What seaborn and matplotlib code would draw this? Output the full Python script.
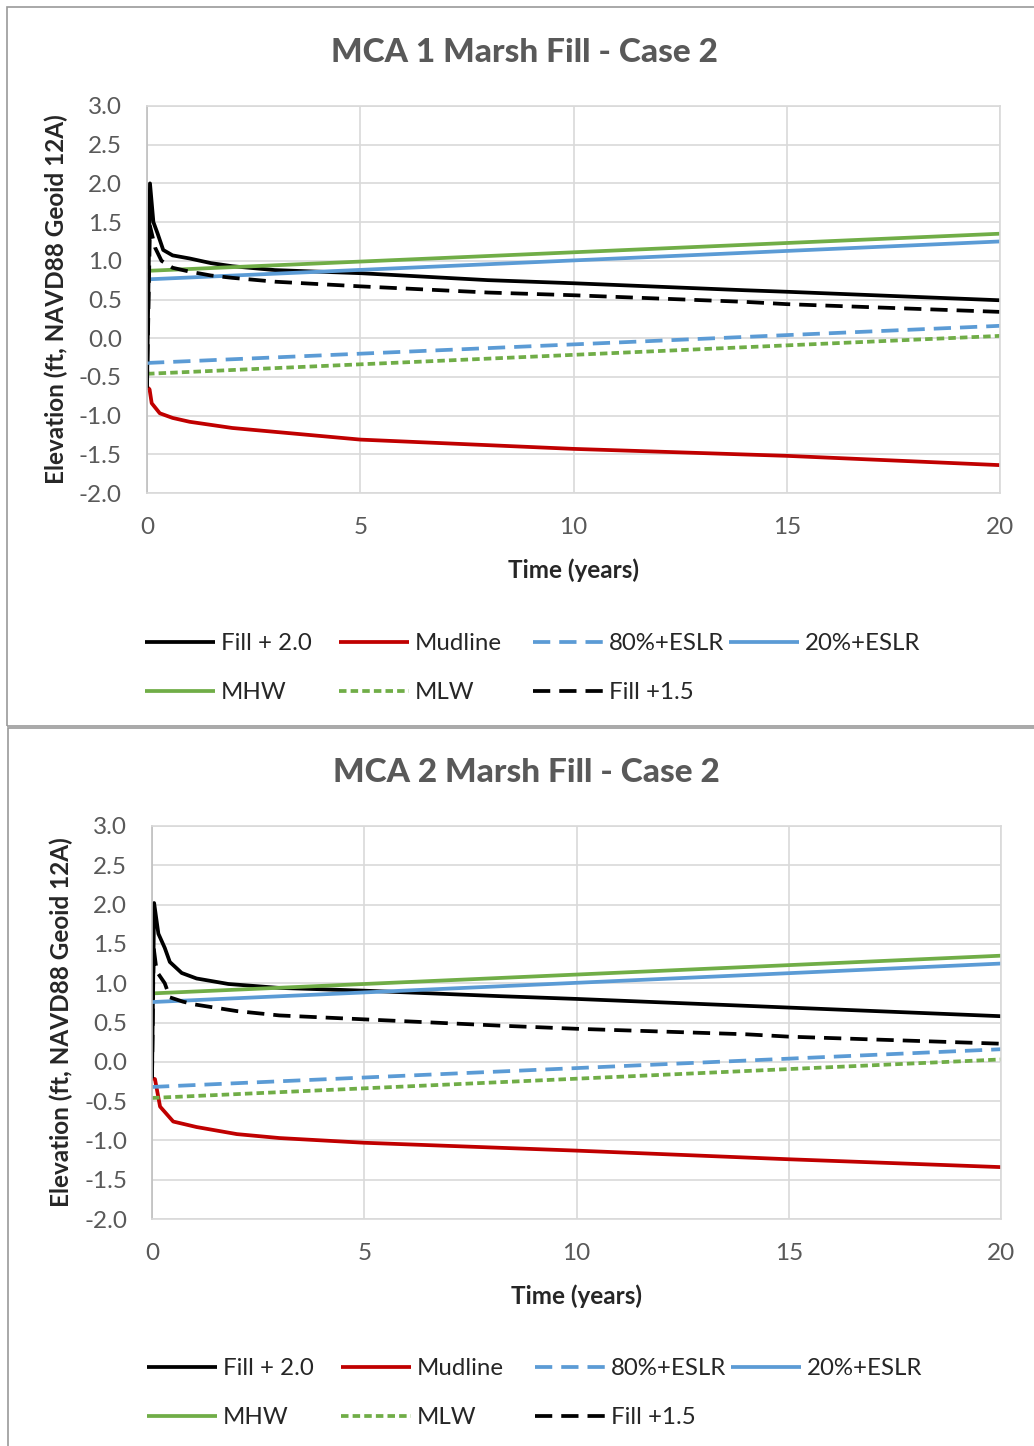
import numpy as np
import pandas as pd
import matplotlib
matplotlib.use("Agg")
import matplotlib.pyplot as plt
from matplotlib.patches import Rectangle
import seaborn as sns

# ---------------- data ----------------
SERIES = ["Fill + 2.0", "Mudline", "80%+ESLR", "20%+ESLR", "MHW", "MLW", "Fill +1.5"]
TITLES = ["MCA 1 Marsh Fill - Case 2", "MCA 2 Marsh Fill - Case 2"]
X_TICKS = [0, 5, 10, 15, 20]
Y_TICKS = [-2.0, -1.5, -1.0, -0.5, 0.0, 0.5, 1.0, 1.5, 2.0, 2.5, 3.0]

# linear tidal / sea-level series (same in both charts)
T_LIN = [0, 20]
MHW = [0.87, 1.35]
ESLR20 = [0.76, 1.25]
ESLR80 = [-0.32, 0.16]
MLW = [-0.46, 0.03]

# MCA 1
T1_FILL20 = [0, 0.07, 0.15, 0.25, 0.38, 0.6, 1.0, 1.5, 2.0, 3.0, 5.0, 8.0, 10.0, 14.0, 15.0, 20.0]
V1_FILL20 = [-0.64, 2.0, 1.5, 1.35, 1.14, 1.07, 1.03, 0.97, 0.93, 0.88, 0.84, 0.75, 0.71, 0.62, 0.60, 0.49]
T1_FILL15 = [0, 0.07, 0.19, 0.34, 0.6, 1.0, 1.5, 2.0, 3.0, 5.0, 8.0, 10.0, 14.0, 15.0, 20.0]
V1_FILL15 = [-0.64, 1.45, 1.17, 1.0, 0.91, 0.86, 0.81, 0.78, 0.73, 0.67, 0.59, 0.555, 0.47, 0.44, 0.34]
T1_MUD = [0, 0.06, 0.11, 0.3, 0.6, 1.0, 2.0, 3.0, 5.0, 10.0, 15.0, 20.0]
V1_MUD = [-0.63, -0.66, -0.84, -0.97, -1.03, -1.08, -1.16, -1.21, -1.31, -1.43, -1.52, -1.64]

# MCA 2
T2_FILL20 = [0, 0.05, 0.15, 0.3, 0.42, 0.7, 1.05, 1.8, 3.0, 5.0, 8.2, 10.0, 14.1, 15.0, 20.0]
V2_FILL20 = [-0.21, 2.02, 1.63, 1.45, 1.27, 1.13, 1.06, 0.99, 0.94, 0.905, 0.835, 0.80, 0.71, 0.69, 0.58]
T2_FILL15 = [0, 0.04, 0.11, 0.3, 0.42, 0.73, 1.0, 2.0, 3.0, 5.0, 8.2, 10.0, 14.0, 15.0, 20.0]
V2_FILL15 = [-0.21, 1.45, 1.15, 1.0, 0.82, 0.765, 0.73, 0.645, 0.59, 0.54, 0.46, 0.42, 0.35, 0.32, 0.23]
T2_MUD = [0, 0.07, 0.19, 0.5, 1.05, 2.0, 3.0, 5.0, 10.0, 15.0, 20.0]
V2_MUD = [-0.21, -0.22, -0.57, -0.76, -0.83, -0.92, -0.97, -1.03, -1.13, -1.24, -1.34]

PALETTE = {"Fill + 2.0": "#000000", "Mudline": "#C00000", "80%+ESLR": "#5B9BD5",
           "20%+ESLR": "#5B9BD5", "MHW": "#70AD47", "MLW": "#70AD47", "Fill +1.5": "#000000"}
DASHES = {"Fill + 2.0": "", "Mudline": "", "80%+ESLR": (4.6, 2.4), "20%+ESLR": "",
          "MHW": "", "MLW": (2.0, 1.1), "Fill +1.5": (4.6, 2.4)}


def build_df(tf20, vf20, tmud, vmud, tf15, vf15):
    parts = [
        ("Fill + 2.0", tf20, vf20),
        ("Mudline", tmud, vmud),
        ("80%+ESLR", T_LIN, ESLR80),
        ("20%+ESLR", T_LIN, ESLR20),
        ("MHW", T_LIN, MHW),
        ("MLW", T_LIN, MLW),
        ("Fill +1.5", tf15, vf15),
    ]
    rows = []
    for name, t, v in parts:
        for a, b in zip(t, v):
            rows.append({"series": name, "t": a, "v": b})
    return pd.DataFrame(rows)


DATA = [
    build_df(T1_FILL20, V1_FILL20, T1_MUD, V1_MUD, T1_FILL15, V1_FILL15),
    build_df(T2_FILL20, V2_FILL20, T2_MUD, V2_MUD, T2_FILL15, V2_FILL15),
]

# ---------------- style ----------------
sns.set_theme(style="white")
plt.rcParams["font.family"] = ["Lato", "DejaVu Sans"]

W, H = 1034, 1446
fig = plt.figure(figsize=(W / 100, H / 100), dpi=100)

# panel boxes
for (x0, y0, x1, y1) in [(7, 7, 1040, 726), (8, 728, 1040, 1450)]:
    fig.patches.append(Rectangle((x0 / W, 1 - y1 / H), (x1 - x0) / W, (y1 - y0) / H,
                                 transform=fig.transFigure, fill=False,
                                 edgecolor="#9a9a9a", linewidth=1.2))

layouts = [
    dict(ax=(147, 106, 1000, 493), title=(524, 52), ylab=-0.0926, xlab=-0.17,
         legx=[145, 339, 533, 729], legy=641),
    dict(ax=(152, 826, 1001, 1219), title=(526, 772), ylab=-0.093, xlab=-0.166,
         legx=[147, 341, 535, 731], legy=1366),
]

GRID = "#d9d9d9"
TXT = "#595959"
LW = 2.7
FS = 17.3

for k, lay in enumerate(layouts):
    x0, y0, x1, y1 = lay["ax"]
    ax = fig.add_axes([x0 / W, 1 - y1 / H, (x1 - x0) / W, (y1 - y0) / H])
    df = DATA[k]
    sns.lineplot(data=df, x="t", y="v", hue="series", style="series", hue_order=SERIES,
                 style_order=SERIES, palette=PALETTE, dashes=DASHES, sort=False,
                 estimator=None, units="series", linewidth=LW, ax=ax, legend=True)
    for ln in ax.lines:
        ln.set_solid_capstyle("butt")
        ln.set_dash_capstyle("butt")
        ln.set_solid_joinstyle("round")
    ax.set_xlim(0, 20)
    ax.set_ylim(-2.0, 3.0)
    ax.set_xticks(X_TICKS)
    ax.set_xticklabels([str(x) for x in X_TICKS])
    ax.set_yticks(Y_TICKS)
    ax.set_yticklabels([f"{y:.1f}" for y in Y_TICKS])
    ax.tick_params(axis="both", length=0, labelsize=17.5, labelcolor=TXT)
    ax.tick_params(axis="y", pad=18)
    ax.tick_params(axis="x", pad=17)
    ax.grid(True, color=GRID, linewidth=1.2)
    ax.set_axisbelow(True)
    for sp in ax.spines.values():
        sp.set_color(GRID)
        sp.set_linewidth(1.2)
    ax.spines["left"].set_color("#bfbfbf")
    ax.set_xlabel("Time (years)", fontsize=17.5, fontweight="bold", color="#262626")
    ax.set_ylabel("Elevation (ft, NAVD88 Geoid 12A)", fontsize=17.5, fontweight="bold", color="#262626")
    ax.xaxis.set_label_coords(0.5, lay["xlab"])
    ax.yaxis.set_label_coords(lay["ylab"], 0.5)

    tx, ty = lay["title"]
    fig.text(tx / W, 1 - ty / H, TITLES[k], ha="center", va="center", fontsize=24,
             fontweight=900, color=TXT)

    handles, labels = ax.get_legend_handles_labels()
    hmap = dict(zip(labels, handles))
    ax.get_legend().remove()
    columns = [[0, 4], [1, 5], [2, 6], [3]]
    for c, idxs in enumerate(columns):
        hs = [hmap[SERIES[i]] for i in idxs]
        for h in hs:
            h.set_linewidth(LW)
        fig.legend(hs, [SERIES[i] for i in idxs], loc="upper left",
                   bbox_to_anchor=(lay["legx"][c] / W, 1 - (lay["legy"] - 8) / H),
                   ncol=1, frameon=False, fontsize=FS, handlelength=2.9,
                   handletextpad=0.25, labelspacing=1.18, borderpad=0,
                   borderaxespad=0, labelcolor="#262626")

fig.savefig("out.png", dpi=100, facecolor="white")
